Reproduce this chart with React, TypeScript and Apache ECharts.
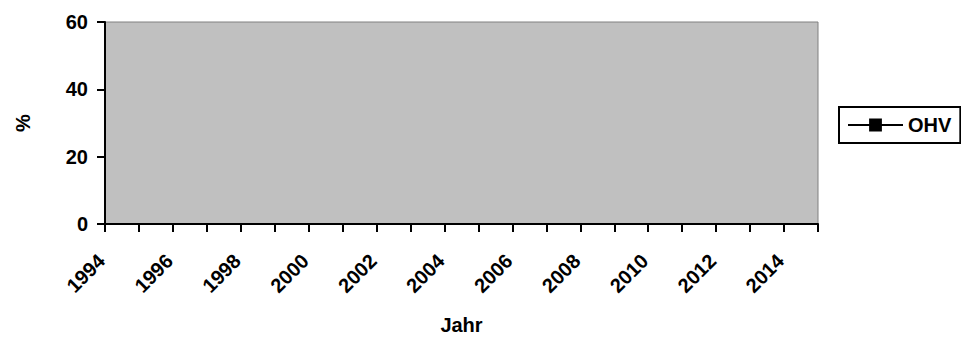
import React, { useEffect, useRef } from "react";
import * as echarts from "echarts";

const years: string[] = [
  "1994", "1995", "1996", "1997", "1998", "1999", "2000", "2001", "2002", "2003", "2004",
  "2005", "2006", "2007", "2008", "2009", "2010", "2011", "2012", "2013", "2014", "2015",
];
const ohvValues: (number | null)[] = [
  null, null, null, null, null, null, null, null, null, null, null,
  null, null, null, null, null, null, null, null, null, null, null,
];
const seriesName = "OHV";
const xTitle = "Jahr";
const yTitle = "%";
const yMin = 0;
const yMax = 60;
const yStep = 20;

const FONT = "'Liberation Sans', Arial, sans-serif";

export default function App() {
  const ref = useRef<HTMLDivElement>(null);
  useEffect(() => {
    if (!ref.current) return;
    const chart = echarts.init(ref.current, null, { renderer: "svg" });
    chart.setOption({
      animation: false,
      textStyle: { fontFamily: FONT },
      grid: {
        left: 105,
        top: 22,
        right: 143,
        bottom: 111,
        show: true,
        backgroundColor: "#C0C0C0",
        borderColor: "#808080",
        borderWidth: 1,
      },
      legend: {
        left: 839,
        top: 107,
        orient: "vertical",
        borderColor: "#000",
        borderWidth: 2,
        padding: [8, 9, 8, 8],
        itemWidth: 55,
        itemHeight: 16,
        itemGap: 4,
        textStyle: {
          fontFamily: FONT,
          fontWeight: "bold",
          fontSize: 20,
          lineHeight: 20,
          color: "#000",
        },
        data: [seriesName],
      },
      xAxis: {
        type: "category",
        data: years,
        boundaryGap: false,
        name: xTitle,
        nameLocation: "middle",
        nameGap: 91,
        nameTextStyle: { fontFamily: FONT, fontWeight: "bold", fontSize: 20, color: "#000" },
        axisLine: { show: true, lineStyle: { color: "#000", width: 2 } },
        axisTick: { show: true, interval: 0, length: 8, lineStyle: { color: "#000", width: 2 } },
        axisLabel: {
          interval: 1,
          rotate: 45,
          margin: 30,
          padding: [0, 5, 0, 0],
          fontFamily: FONT,
          fontWeight: "bold",
          fontSize: 20,
          color: "#000",
        },
        splitLine: { show: false },
      },
      yAxis: {
        type: "value",
        min: yMin,
        max: yMax,
        interval: yStep,
        name: yTitle,
        nameLocation: "middle",
        nameGap: 72,
        nameRotate: 90,
        nameTextStyle: { fontFamily: FONT, fontWeight: "bold", fontSize: 20, color: "#000" },
        axisLine: { show: true, lineStyle: { color: "#000", width: 2 } },
        axisTick: { show: true, length: 8, lineStyle: { color: "#000", width: 2 } },
        axisLabel: { margin: 17, fontFamily: FONT, fontWeight: "bold", fontSize: 20, color: "#000" },
        splitLine: { show: false },
      },
      series: [
        {
          name: seriesName,
          type: "line",
          data: ohvValues,
          color: "#000",
          symbol: "rect",
          symbolSize: 12,
          lineStyle: { color: "#000", width: 2 },
          itemStyle: { color: "#000" },
        },
      ],
    });
    return () => chart.dispose();
  }, []);
  return (
    <div
      ref={ref}
      style={{ position: "fixed", left: 0, top: 0, width: 961, height: 340, background: "#fff" }}
    />
  );
}
